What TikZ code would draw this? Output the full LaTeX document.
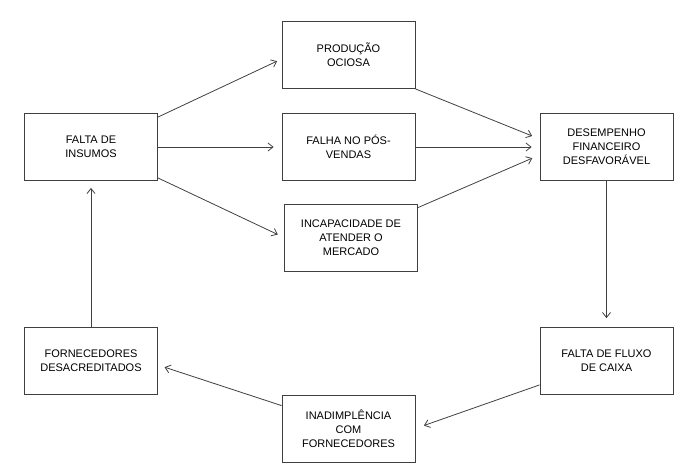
\documentclass[tikz,border=0pt]{standalone}
\usepackage{fontspec}
\setmainfont{Liberation Sans}
\usetikzlibrary{arrows.meta}

\begin{document}
\begin{tikzpicture}[
        x=1pt, y=-1pt,
        >={Straight Barb[length=5pt,width=8pt]},
        every node/.style={font=\fontsize{11}{14}\selectfont},
        box/.style={draw=black!75, line width=0.8pt, align=center,
            minimum width=133pt, minimum height=67pt, inner sep=2pt},
        arr/.style={->, draw=black!75, line width=0.8pt}
    ]

    \useasboundingbox (0,0) rectangle (698,472);

    % Nodes for the cycle
    \node[box] (insumos) at (91,147) {FALTA DE\\INSUMOS};
    \node[box] (producao) at (348.5,55) {PRODUÇÃO\\OCIOSA};
    \node[box] (falha) at (348.5,147) {FALHA NO PÓS-\\VENDAS};
    \node[box] (incapacidade) at (351,237.5) {INCAPACIDADE DE\\ATENDER O\\MERCADO};
    \node[box] (desempenho) at (606.5,147) {DESEMPENHO\\FINANCEIRO\\DESFAVORÁVEL};
    \node[box] (fluxo) at (606.5,361) {FALTA DE FLUXO\\DE CAIXA};
    \node[box] (inadimplencia) at (348.5,428.5) {INADIMPLÊNCIA\\COM\\FORNECEDORES};
    \node[box] (fornecedores) at (91,361) {FORNECEDORES\\DESACREDITADOS};

    % Arrows out of Falta de Insumos
    \draw[arr, shorten >=5pt] ([yshift=-4pt]insumos.north east) -- ([yshift=-4pt]producao.west);
    \draw[arr, shorten >=8pt] (insumos.east) -- (falha.west);
    \draw[arr, shorten >=7pt] ([yshift=3pt]insumos.south east) -- (incapacidade.west);

    % Arrows into Desempenho
    \draw[arr, shorten >=8pt] (producao.south east) -- ([yshift=8pt]desempenho.west);
    \draw[arr, shorten >=8pt] (falha.east) -- (desempenho.west);
    \draw[arr, shorten >=8pt] ([yshift=-4pt]incapacidade.north east) -- ([yshift=-8pt]desempenho.west);

    % Back round the loop
    \draw[arr, shorten >=9pt] (desempenho.south) -- (fluxo.north);
    \draw[arr, shorten >=9pt] ([yshift=10pt]fluxo.south west) -- (inadimplencia.east);
    \draw[arr, shorten >=7pt] ([yshift=-11pt]inadimplencia.north west) -- ([yshift=-4pt]fornecedores.east);
    \draw[arr, shorten >=7pt] (fornecedores.north) -- (insumos.south);

\end{tikzpicture}
\end{document}
